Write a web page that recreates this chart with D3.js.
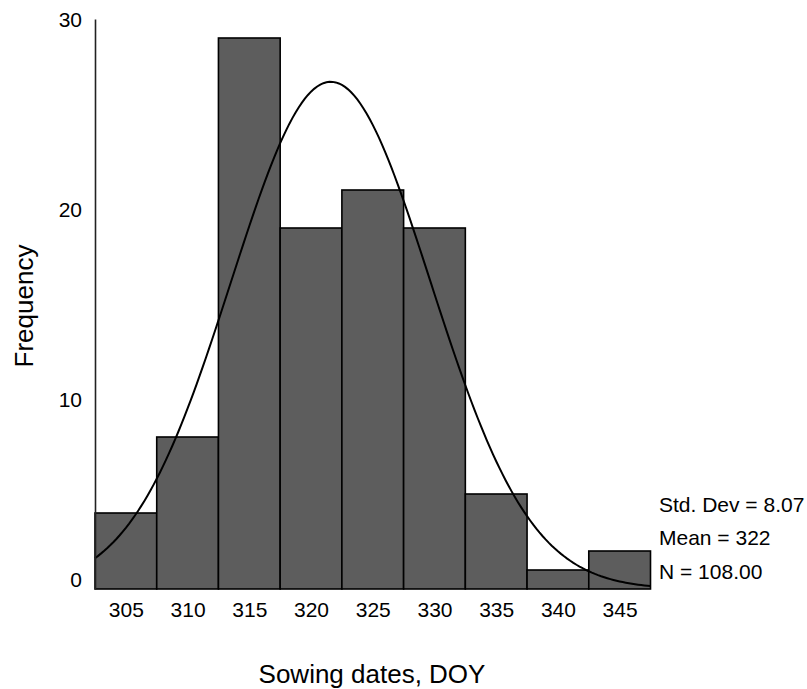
<!DOCTYPE html>
<html>
<head>
<meta charset="utf-8">
<script src="https://cdn.jsdelivr.net/npm/d3@7/dist/d3.min.js"></script>
<style>
  html, body { margin: 0; padding: 0; background: #fff; }
  svg { display: block; font-family: "Liberation Sans", Arial, Helvetica, sans-serif; }
</style>
</head>
<body>
<svg id="chart" width="807" height="689"></svg>
<script>
// ---- data ----
const binCenters = [305, 310, 315, 320, 325, 330, 335, 340, 345];
const frequencies = [4, 8, 29, 19, 21, 19, 5, 1, 2];
const binWidth = 5;
const yTicks = [0, 10, 20, 30];
const statLabels = ["Std. Dev = 8.07", "Mean = 322", "N = 108.00"];
const stdDev = 8.07;
const curveMean = 321.6;   // peak position
const nTotal = 108;

// ---- layout ----
const svg = d3.select("#chart");
const x = d3.scaleLinear().domain([302.5, 347.5]).range([95, 650.5]);
const y = d3.scaleLinear().domain([0, 30]).range([589, 19]);

// bars
svg.append("g").selectAll("rect")
  .data(binCenters.map((c, i) => ({ c, f: frequencies[i] })))
  .join("rect")
  .attr("x", d => x(d.c - binWidth / 2))
  .attr("width", d => x(d.c + binWidth / 2) - x(d.c - binWidth / 2))
  .attr("y", d => y(d.f))
  .attr("height", d => y(0) - y(d.f))
  .attr("fill", "#5d5d5d")
  .attr("stroke", "#000")
  .attr("stroke-width", 1.6);

// normal curve fitted to the data
const xs = d3.range(302.5, 347.5 + 0.001, 0.25);
const curve = xs.map(v => [v,
  nTotal * binWidth / (stdDev * Math.sqrt(2 * Math.PI)) *
  Math.exp(-((v - curveMean) ** 2) / (2 * stdDev * stdDev))]);
svg.append("path")
  .datum(curve)
  .attr("fill", "none")
  .attr("stroke", "#000")
  .attr("stroke-width", 2)
  .attr("d", d3.line().x(d => x(d[0])).y(d => y(d[1])));

// y axis
const yAxis = svg.append("g")
  .attr("transform", "translate(95,0)")
  .call(d3.axisLeft(y).tickValues(yTicks).tickSize(0).tickPadding(13).tickFormat(d3.format("d")));
yAxis.select(".domain").attr("stroke", "#222").attr("stroke-width", 1.6);
yAxis.selectAll("text")
  .attr("font-size", 21)
  .attr("fill", "#000")
  .attr("font-family", "'Liberation Sans', Arial, sans-serif")
  .attr("dy", d => d === 0 ? "-0.1em" : "0.36em");

// x axis labels
const xAxis = svg.append("g")
  .attr("transform", `translate(0,${y(0)})`)
  .call(d3.axisBottom(x).tickValues(binCenters).tickSize(0).tickFormat(d3.format("d")));
xAxis.select(".domain").remove();
xAxis.selectAll("text")
  .attr("font-size", 21)
  .attr("fill", "#000")
  .attr("font-family", "'Liberation Sans', Arial, sans-serif")
  .attr("dy", null)
  .attr("y", 28);

// axis titles
svg.append("text")
  .attr("x", 372).attr("y", 683)
  .attr("text-anchor", "middle")
  .attr("font-size", 26)
  .text("Sowing dates, DOY");

svg.append("text")
  .attr("transform", "translate(33,306) rotate(-90)")
  .attr("text-anchor", "middle")
  .attr("font-size", 26)
  .text("Frequency");

// statistics
svg.append("g").selectAll("text")
  .data(statLabels)
  .join("text")
  .attr("x", 659)
  .attr("y", (d, i) => [512, 545, 579][i])
  .attr("font-size", 21)
  .text(d => d);
</script>
</body>
</html>
